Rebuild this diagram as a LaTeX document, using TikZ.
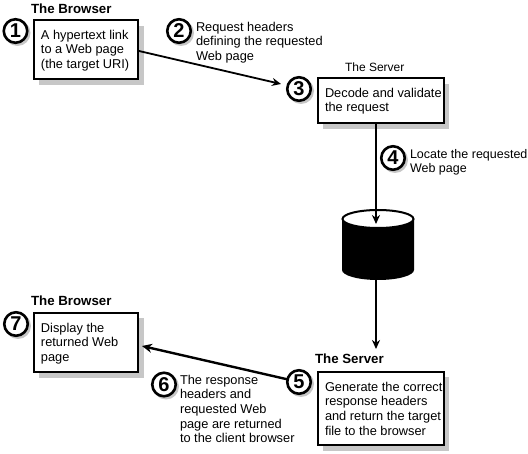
\documentclass[tikz,border=0pt]{standalone}
\usepackage{fontspec}
\setmainfont{Liberation Sans}
\usetikzlibrary{arrows.meta,shapes.geometric}
\definecolor{shadowgray}{gray}{0.78}
\tikzset{
  x=1pt,y=-1pt,
  every node/.style={inner sep=0pt,outer sep=0pt},
  boxstyle/.style={draw=black,line width=2.5pt,fill=white,rectangle,anchor=north west},
  numstyle/.style={draw=black,line width=2.6pt,fill=white,circle,minimum size=23.5pt,font=\fontsize{20}{20}\selectfont\bfseries},
  numshadow/.style={fill=shadowgray,circle,minimum size=26pt},
  bodytext/.style={align=left,anchor=north west,font=\fontsize{12.8}{14.6}\selectfont},
  titletext/.style={anchor=west,font=\fontsize{13.3}{14}\selectfont\bfseries},
  plaintitle/.style={anchor=west,font=\fontsize{12}{14}\selectfont},
  conn/.style={line width=1.8pt,-{Stealth[length=9pt,width=8pt]}},
  connheavy/.style={line width=2.4pt,-{Stealth[length=10pt,width=9pt]}},
}
\begin{document}
\begin{tikzpicture}
\useasboundingbox (0,0) rectangle (528,454);
% box shadows
\fill[shadowgray] (39,26) rectangle (144,85);
\fill[shadowgray] (323,84) rectangle (449,129);
\fill[shadowgray] (39,318) rectangle (144,378);
\fill[shadowgray] (323,377) rectangle (449,451);
% boxes
\node[boxstyle,minimum width=104pt,minimum height=59pt] (b1) at (34,20) {};
\node[boxstyle,minimum width=126pt,minimum height=45pt] (b3) at (318,78) {};
\node[boxstyle,minimum width=104pt,minimum height=59pt] (b7) at (34,313) {};
\node[boxstyle,minimum width=126pt,minimum height=73pt] (b5) at (318,372) {};
% titles
\node[titletext] (t1) at (31,9) {The Browser};
\node[plaintitle] (t3) at (345,67) {The Server};
\node[titletext] (t7) at (31,301) {The Browser};
\node[titletext] (t5) at (315,359) {The Server};
% texts
\node[bodytext] (x1) at (41,30) {A hypertext link\\to a Web page\\(the target URI)};
\node[bodytext] (x2) at (196,22) {Request headers\\defining the requested\\Web page};
\node[bodytext] (x3) at (325,88) {Decode and validate\\the request};
\node[bodytext,font=\fontsize{12.5}{14.6}\selectfont] (x4) at (410,149) {Locate the requested\\Web page};
\node[bodytext] (x7) at (41,323) {Display the\\returned Web\\page};
\node[bodytext] (x6) at (180,375) {The response\\headers and\\requested Web\\page are returned\\to the client browser};
\node[bodytext] (x5) at (325,382) {Generate the correct\\response headers\\and return the target\\file to the browser};
% cylinder
\fill[black] (342,219) -- (342,270) arc[start angle=180,end angle=360,x radius=36pt,y radius=10pt] -- (414,219) -- cycle;
\node[fill=white,draw=black,line width=2pt,ellipse,minimum width=71pt,minimum height=18pt] (db) at (378,219) {};
\coordinate (dbbot) at (376,279);
% numbers
\foreach \n/\cx/\cy in {1/15.5/31,2/179/31,3/299/89,4/393/158,5/299/382,6/164/384.5,7/16/324}{
  \node[numshadow] at (\cx+2,\cy+2) {};
  \node[numstyle] (n\n) at (\cx,\cy) {\n};
}
% connectors
\coordinate (a1) at (139,51);
\coordinate (a3) at (281,84);
\draw[conn] (a1) -- (a3);
\coordinate (b3out) at (376,123);
\coordinate (dbin) at (376,224);
\draw[conn] (b3out) -- (dbin);
\coordinate (b5in) at (376,349);
\draw[conn] (dbbot) -- (b5in);
\coordinate (b7in) at (142,346);
\draw[connheavy] (n5) -- (b7in);
\end{tikzpicture}
\end{document}
